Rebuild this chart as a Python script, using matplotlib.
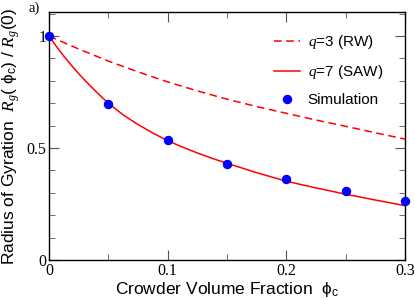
import matplotlib
matplotlib.use("Agg")
import matplotlib.pyplot as plt
from matplotlib.ticker import MultipleLocator

plt.rcParams['mathtext.fontset'] = 'custom'
plt.rcParams['mathtext.rm'] = 'Liberation Sans'
plt.rcParams['mathtext.it'] = 'Liberation Serif:italic'

# Kurven
phi_rw = [0.0, 0.025, 0.05, 0.075, 0.1, 0.125, 0.15, 0.175, 0.2, 0.225, 0.25, 0.275, 0.3]
rg_rw = [1.0, 0.942, 0.888, 0.84, 0.795, 0.755, 0.718, 0.685, 0.655, 0.625, 0.597, 0.568, 0.54]

phi_saw = [0.0, 0.00625, 0.0125, 0.01875, 0.025, 0.03125, 0.0375, 0.04375, 0.05, 0.0625,
           0.075, 0.0875, 0.1, 0.1125, 0.125, 0.1375, 0.15, 0.175, 0.2, 0.225, 0.25, 0.275, 0.3]
rg_saw = [1.0, 0.953, 0.91, 0.87, 0.832, 0.797, 0.763, 0.731, 0.70, 0.648,
          0.605, 0.567, 0.533, 0.504, 0.478, 0.454, 0.432, 0.39, 0.352, 0.322, 0.294, 0.268, 0.243]

# Simulation
phi_sim = [0.0, 0.05, 0.1, 0.15, 0.2, 0.25, 0.3]
rg_sim = [1.0, 0.696, 0.534, 0.43, 0.36, 0.308, 0.263]

fig = plt.figure(figsize=(4.15, 3.0), dpi=100)
ax = fig.add_axes([0.118, 0.133, 0.858, 0.827])

ax.plot(phi_rw, rg_rw, color='red', ls=(0, (5, 3)), lw=1.1, label=r'$q$=3 (RW)')
ax.plot(phi_saw, rg_saw, color='red', lw=1.1, label=r'$q$=7 (SAW)')
ax.plot(phi_sim, rg_sim, 'o', color='#0000ff', ms=5.8, ls='none',
        label='Simulation', clip_on=False, zorder=5)

ax.set_xlim(0, 0.3)
ax.set_ylim(0, 1.107)
ax.xaxis.set_minor_locator(MultipleLocator(0.05))
ax.yaxis.set_minor_locator(MultipleLocator(0.1))
ax.set_xticks([0, 0.1, 0.2, 0.3])
ax.set_xticklabels(['0', '0.1', '0.2', '0.3'], fontfamily='Liberation Serif', fontsize=11.5)
ax.set_yticks([0, 0.5, 1.0])
ax.set_yticklabels(['0', '0.5', '1'], fontfamily='Liberation Serif', fontsize=11.5)
ax.tick_params(which='both', direction='in', top=True, right=True, color='#555555')
ax.tick_params(which='major', length=7, pad=2)
ax.tick_params(which='minor', length=4)
for s in ax.spines.values():
    s.set_linewidth(1.0)

ax.set_xlabel(r'Crowder Volume Fraction  $\mathrm{\phi_c}$', fontfamily='Liberation Sans',
              fontsize=12.5, labelpad=1)
ax.set_ylabel(r'Radius of Gyration  $R_g$( $\mathrm{\phi_c}$) / $R_g$(0)',
              fontfamily='Liberation Sans', fontsize=12.5, labelpad=3)

leg = ax.legend(loc='upper right', frameon=False, handlelength=1.7, handletextpad=0.5,
                labelspacing=0.8, borderaxespad=0,
                prop={'family': 'Liberation Sans', 'size': 11},
                bbox_to_anchor=(0.955, 0.94))

fig.text(0.068, 0.995, 'a)', fontfamily='Liberation Serif', fontsize=10.5, va='top')

fig.savefig('out.png', dpi=100)
